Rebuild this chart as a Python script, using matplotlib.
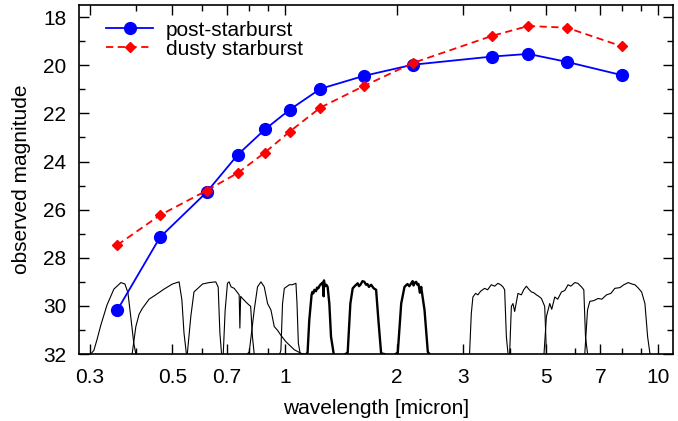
import numpy as np
import matplotlib
matplotlib.use("Agg")
import matplotlib.pyplot as plt

plt.rcParams["font.family"] = ["Liberation Sans", "DejaVu Sans"]

# ── photometry (observed magnitudes) ─────────────────────────────────────────
wavelength = [0.356, 0.463, 0.617, 0.749, 0.884, 1.03, 1.245, 1.63, 2.20,
              3.59, 4.49, 5.69, 7.98]
post_starburst = [30.17, 27.15, 25.28, 23.71, 22.67, 21.85, 20.98, 20.44,
                  19.98, 19.64, 19.53, 19.86, 20.41]
dusty_starburst = [27.47, 26.23, 25.21, 24.47, 23.63, 22.76, 21.76, 20.86,
                   19.91, 18.78, 18.37, 18.44, 19.21]

# ── filter transmission curves (wavelength, normalised throughput) ───────────
u_wl = [0.302, 0.308, 0.314, 0.3215, 0.334, 0.3485, 0.364, 0.373, 0.380, 0.387, 0.394, 0.399]
u_tr = [0.0, 0.05, 0.20, 0.40, 0.68, 0.90, 0.99, 0.97, 0.85, 0.50, 0.15, 0.0]
g_wl = [0.390, 0.399, 0.407, 0.415, 0.433, 0.451, 0.475, 0.500, 0.521, 0.530, 0.537, 0.545]
g_tr = [0.0, 0.38, 0.55, 0.63, 0.76, 0.82, 0.90, 0.97, 1.0, 0.75, 0.29, 0.0]
r_wl = [0.548, 0.560, 0.571, 0.602, 0.627, 0.653, 0.663, 0.670, 0.677]
r_tr = [0.0, 0.52, 0.86, 0.97, 0.99, 1.0, 0.93, 0.29, 0.0]
i_wl = [0.684, 0.692, 0.702, 0.709, 0.718, 0.732, 0.7546, 0.7579, 0.7616, 0.770,
        0.794, 0.810, 0.819, 0.828]
i_tr = [0.0, 0.60, 0.98, 1.0, 0.93, 0.91, 0.82, 0.36, 0.80, 0.77, 0.70, 0.66, 0.24, 0.0]
z_wl = [0.793, 0.803, 0.828, 0.845, 0.863, 0.881, 0.899, 0.918, 0.937, 0.956,
        0.976, 1.007, 1.060, 1.105, 1.127]
z_tr = [0.0, 0.03, 0.61, 0.93, 1.0, 0.93, 0.70, 0.61, 0.38, 0.33, 0.26, 0.17, 0.06, 0.01, 0.0]
y_wl = [0.969, 0.976, 0.986, 0.997, 1.028, 1.047, 1.071, 1.078, 1.087, 1.100]
y_tr = [0.0, 0.05, 0.70, 0.91, 0.96, 0.96, 0.98, 0.70, 0.15, 0.0]
j_wl = [1.1415, 1.1506, 1.1627, 1.1794, 1.1850, 1.1917, 1.2000, 1.2119, 1.2200,
        1.2294, 1.2400, 1.2501, 1.2639, 1.2704, 1.2730, 1.2760, 1.2840, 1.2917,
        1.3021, 1.3158, 1.3296, 1.3511]
j_tr = [0.0, 0.02, 0.47, 0.82, 0.86, 0.84, 0.89, 0.87, 0.92, 0.91, 0.95, 0.97,
        0.99, 0.80, 1.02, 0.98, 0.94, 0.96, 0.93, 0.70, 0.24, 0.01]
h_wl = [1.4527, 1.4734, 1.4981, 1.5197, 1.5450, 1.5673, 1.5800, 1.5936, 1.6150,
        1.6336, 1.6500, 1.6639, 1.6800, 1.7025, 1.7300, 1.7558, 1.7808, 1.8108, 1.848]
h_tr = [0.0, 0.02, 0.70, 0.91, 0.95, 0.98, 0.94, 0.96, 1.01, 1.0, 0.96, 0.97,
        0.93, 0.96, 0.91, 0.89, 0.47, 0.01, 0.0]
k_wl = [1.9788, 2.0068, 2.0497, 2.0917, 2.1100, 2.1309, 2.1550, 2.1801, 2.2000,
        2.2113, 2.2300, 2.2482, 2.2650, 2.2806, 2.3000, 2.3187, 2.3375, 2.3667,
        2.4153, 2.4410]
k_tr = [0.0, 0.02, 0.70, 0.93, 0.95, 0.97, 0.94, 0.98, 1.01, 0.95, 0.99, 1.0,
        0.96, 0.97, 0.85, 0.93, 0.80, 0.61, 0.03, 0.0]
ch1_wl = [3.1247, 3.1580, 3.1893, 3.2430, 3.2894, 3.3449, 3.4288, 3.4924, 3.5729,
          3.6469, 3.7224, 3.7848, 3.8391, 3.8793, 3.9206, 3.9597]
ch1_tr = [0.01, 0.56, 0.79, 0.84, 0.82, 0.87, 0.91, 0.89, 0.96, 0.94, 0.98,
          0.96, 0.93, 0.89, 0.24, 0.01]
ch2_wl = [4.0006, 4.0433, 4.0835, 4.1260, 4.2114, 4.3005, 4.3623, 4.4352, 4.4991,
          4.5744, 4.6401, 4.7190, 4.7856, 4.8669, 4.9665, 5.0193]
ch2_tr = [0.01, 0.66, 0.70, 0.59, 0.84, 0.82, 0.89, 0.94, 0.90, 0.86, 0.85,
          0.82, 0.80, 0.77, 0.66, 0.01]
ch3_wl = [4.9458, 5.0193, 5.1231, 5.1861, 5.2838, 5.3823, 5.5064, 5.6205, 5.7369,
          5.8329, 5.9783, 6.0909, 6.2313, 6.3206, 6.3866, 6.4668]
ch3_tr = [0.01, 0.52, 0.70, 0.62, 0.79, 0.76, 0.86, 0.88, 0.96, 0.94, 0.99,
          0.98, 0.93, 0.89, 0.24, 0.01]
ch4_wl = [6.360, 6.467, 6.559, 6.723, 6.904, 7.064, 7.271, 7.467, 7.654, 7.895,
          8.092, 8.311, 8.502, 8.661, 8.824, 9.027, 9.214, 9.368, 9.502]
ch4_tr = [0.01, 0.61, 0.73, 0.74, 0.77, 0.76, 0.82, 0.84, 0.91, 0.92, 0.96,
          0.99, 0.97, 0.96, 0.92, 0.86, 0.70, 0.24, 0.01]

thin_filters = [(u_wl, u_tr), (g_wl, g_tr), (r_wl, r_tr), (i_wl, i_tr),
                (z_wl, z_tr), (y_wl, y_tr), (ch1_wl, ch1_tr), (ch2_wl, ch2_tr),
                (ch3_wl, ch3_tr), (ch4_wl, ch4_tr)]
thick_filters = [(j_wl, j_tr), (h_wl, h_tr), (k_wl, k_tr)]

x_ticks = [0.3, 0.5, 0.7, 1, 2, 3, 5, 7, 10]
x_minor = [0.4, 0.6, 0.8, 0.9, 4, 6, 8, 9]

# ── figure ───────────────────────────────────────────────────────────────────
fig = plt.figure(figsize=(6.78, 4.21), dpi=100)
ax = fig.add_axes([0.1165, 0.159, 0.876, 0.829])

base, depth = 32.0, 3.0
for wl, tr in thin_filters:
    ax.plot(wl, base - depth * np.asarray(tr), color="black", lw=0.8)
for wl, tr in thick_filters:
    ax.plot(wl, base - depth * np.asarray(tr), color="black", lw=1.7)

ax.plot(wavelength, post_starburst, color="#0000ff", lw=1.3, marker="o",
        ms=8.5, label="post-starburst")
ax.plot(wavelength, dusty_starburst, color="#ff0000", lw=1.3, ls=(0, (4, 2.5)),
        marker="D", ms=5, label="dusty starburst")

ax.set_xscale("log")
ax.set_xlim(0.281, 10.95)
ax.set_ylim(32, 17.5)
ax.set_xticks(x_ticks)
ax.set_xticklabels([f"{t:g}" for t in x_ticks])
ax.set_xticks(x_minor, minor=True)
ax.set_xticklabels([], minor=True)
ax.set_yticks(np.arange(18, 33, 2))
ax.set_yticks(np.arange(19, 32, 2), minor=True)

fs = 15
ax.tick_params(which="both", direction="in", top=True, right=True,
               labelsize=fs, width=1.0, colors="black")
ax.tick_params(which="major", length=7)
ax.tick_params(which="minor", length=4)
ax.tick_params(axis="x", which="major", pad=10)
ax.tick_params(axis="y", which="major", pad=9)
for s in ax.spines.values():
    s.set_linewidth(1.2)

ax.set_xlabel("wavelength [micron]", fontsize=fs, labelpad=9)
ax.set_ylabel("observed magnitude", fontsize=fs, labelpad=9)

ax.legend(loc="upper left", frameon=False, fontsize=fs, handlelength=2.25,
          borderaxespad=0.35, handletextpad=0.6, labelspacing=0.0,
          bbox_to_anchor=(0.02, 1.0))

plt.savefig("out.png", dpi=100)
plt.close()
